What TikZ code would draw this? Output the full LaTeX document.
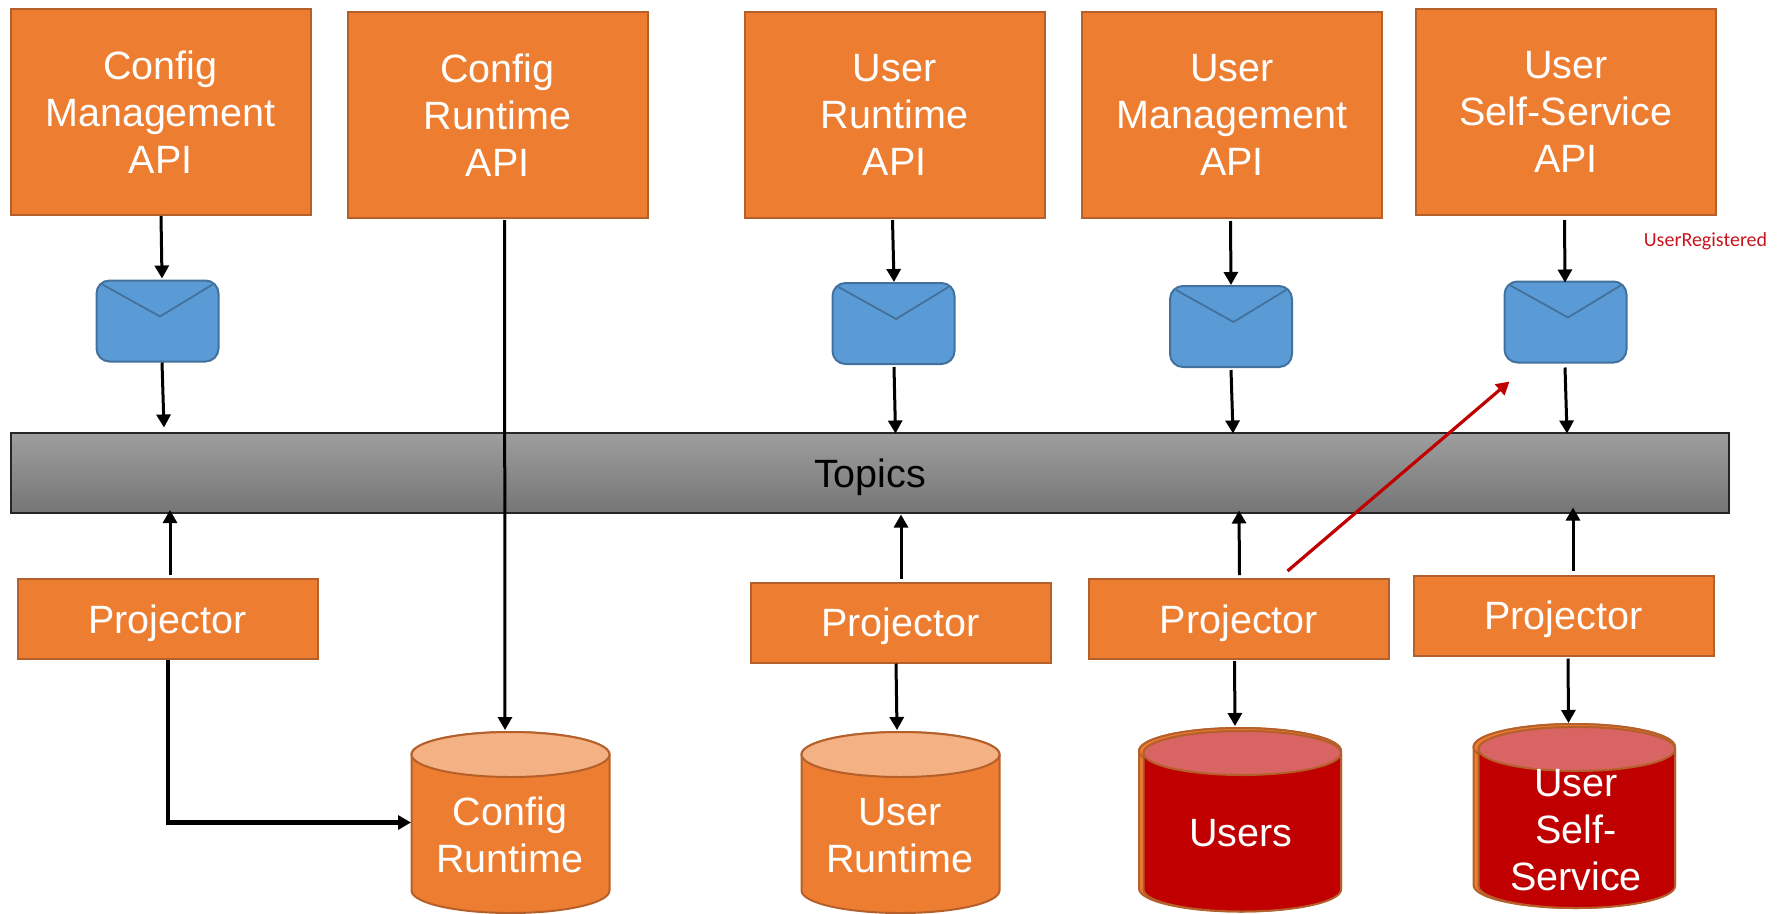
\documentclass[tikz,border=0pt]{standalone}
\usepackage{fontspec}
\setmainfont{Liberation Sans}
\newfontfamily\calibrilike{Carlito}
\usetikzlibrary{arrows.meta}
\definecolor{orangefill}{HTML}{ED7D31}
\definecolor{orangeline}{HTML}{B5602A}
\definecolor{orangelight}{HTML}{F4B183}
\definecolor{bluefill}{HTML}{5B9BD5}
\definecolor{blueline}{HTML}{41719C}
\definecolor{dbred}{HTML}{C00000}
\definecolor{dbpink}{HTML}{D96464}
\definecolor{redlabel}{HTML}{C8141E}
\tikzset{
  x=1pt,y=-1pt,
  bigtext/.style={font=\fontsize{39.5}{47}\selectfont,align=center,text=white},
  apibox/.style={rectangle,draw=orangeline,fill=orangefill,line width=2pt,bigtext,inner sep=0pt,outer sep=0pt,minimum width=300pt,minimum height=206pt},
  projbox/.style={apibox,minimum height=80pt,text depth=0pt},
  envbox/.style={rectangle,rounded corners=13pt,draw=blueline,fill=bluefill,line width=2pt,inner sep=0pt,outer sep=0pt,minimum width=122pt,minimum height=81pt},
  envflap/.style={draw=blueline,line width=1.8pt},
  topicsbar/.style={rectangle,draw=black!85,line width=1.3pt,top color=black!38,bottom color=black!54,inner sep=0pt,outer sep=0pt,minimum width=1718pt,minimum height=80pt,font=\fontsize{39.5}{47}\selectfont,text=black,text depth=0pt},
  dbanchor/.style={rectangle,inner sep=0pt,outer sep=0pt},
  dblabel/.style={bigtext,inner sep=0pt},
  flow/.style={draw=black,line width=3pt,-{Triangle[length=13pt,width=14pt]}},
  flowthick/.style={draw=black,line width=4.2pt,-{Triangle[length=13pt,width=14pt]}},
  flowred/.style={draw=dbred,line width=3.2pt,-{Triangle[length=13pt,width=14pt]}},
  reglabel/.style={font=\calibrilike\fontsize{20}{24}\selectfont,text=redlabel,inner sep=0pt}
}
% body: left, top, right, bottom, end-cap half height, fill, cap fill
\newcommand\dbshape[7]{%
  \pgfmathsetmacro\dbcx{(#1+#3)/2}%
  \pgfmathsetmacro\dbrx{(#3-#1)/2}%
  \path[draw=orangeline,fill=#6,line width=2pt]
    (#1,#2+#5) -- (#1,#4-#5) arc (180:360:\dbrx pt and #5pt) -- (#3,#2+#5) arc (0:180:\dbrx pt and #5pt) -- cycle;
  \path[draw=orangeline,fill=#7,line width=2pt] (\dbcx,#2+#5) ellipse (\dbrx pt and #5pt);
}
\newcommand\mailflap[1]{%
  \draw[envflap,line join=round] ([shift={(6,4)}]#1.north west) -- ([shift={(2.5,36)}]#1.north) -- ([shift={(-6,4)}]#1.north east);
}
\begin{document}
\begin{tikzpicture}
\useasboundingbox (0,0) rectangle (1787,913);

% cylinders
\dbshape{411.5}{732}{609.5}{913}{22.5}{orangefill}{orangelight}
\dbshape{801.5}{732}{999.5}{913}{22.5}{orangefill}{orangelight}
\dbshape{1139}{728}{1341}{911.5}{23}{orangefill}{orangefill}
\dbshape{1143.5}{731}{1341}{911.5}{22}{dbred}{dbpink}
\dbshape{1473.5}{724}{1675}{908}{23}{orangefill}{orangefill}
\dbshape{1478.5}{727}{1675}{908}{22}{dbred}{dbpink}
\node[dbanchor,minimum width=199pt,minimum height=181pt] (crdb) at (510.5,822.5) {};
\node[dbanchor,minimum width=199pt,minimum height=181pt] (urdb) at (900.5,822.5) {};
\node[dbanchor,minimum width=203pt,minimum height=184pt] (usersdb) at (1239.5,820) {};
\node[dbanchor,minimum width=202pt,minimum height=184pt] (ssdb) at (1574,816) {};
\node[dblabel] (crlabel) at (510,835) {Config\\Runtime};
\node[dblabel] (urlabel) at (900,835.5) {User\\Runtime};
\node[dblabel] (userslabel) at (1241,833) {Users};
\node[dblabel] (sslabel) at (1576,830) {User\\Self-\\Service};

% API boxes
\node[apibox] (cmapi) at (160.5,112) {Config\\Management\\API};
\node[apibox] (crapi) at (497.5,115) {Config\\Runtime\\API};
\node[apibox] (urapi) at (894.5,115) {User\\Runtime\\API};
\node[apibox] (umapi) at (1232,115) {User\\Management\\API};
\node[apibox] (ssapi) at (1566,112) {User\\Self-Service\\API};
\node[reglabel] (reg) at (1705.5,241) {UserRegistered};

% messages
\node[envbox] (e1) at (157.5,321) {};
\node[envbox] (e2) at (893.5,323.5) {};
\node[envbox] (e3) at (1231,326.5) {};
\node[envbox] (e4) at (1565.5,322) {};
\mailflap{e1}\mailflap{e2}\mailflap{e3}\mailflap{e4}

% topics
\node[topicsbar] (topics) at (870,473) {Topics};

% projectors
\node[projbox] (p1) at (167.5,619) {Projector};
\node[projbox] (p2) at (900.5,622.5) {Projector};
\node[projbox] (p3) at (1239,619) {Projector};
\node[projbox] (p4) at (1563.5,615.5) {Projector};

% connectors
\draw[flow] ([shift={(0.5,1)}]cmapi.south) -- ([shift={(4.5,-2)}]e1.north);
\draw[flow] ([shift={(4.5,1)}]e1.south) -- ([shift={(153,-5.5)}]topics.north west);
\draw[flow] ([shift={(7,2)}]crapi.south) -- ([shift={(-5.5,-2)}]crdb.north);
\draw[flow] ([shift={(-2,2)}]urapi.south) -- ([shift={(0.5,-1)}]e2.north);
\draw[flow] ([shift={(0.5,3)}]e2.south) -- ([shift={(884.5,0.5)}]topics.north west);
\draw[flow] ([shift={(-1.5,3)}]umapi.south) -- ([shift={(0,-1)}]e3.north);
\draw[flow] ([shift={(0,3)}]e3.south) -- ([shift={(1222,0.5)}]topics.north west);
\draw[flow] ([shift={(-1.5,5)}]ssapi.south) -- ([shift={(-0.5,1)}]e4.north);
\draw[flow] ([shift={(-0.5,5)}]e4.south) -- ([shift={(1556,0.5)}]topics.north west);
\draw[flow] ([shift={(2.5,-4)}]p1.north) -- ([shift={(159,-3)}]topics.south west);
\draw[flow] ([shift={(0.5,-4)}]p2.north) -- ([shift={(890,1.5)}]topics.south west);
\draw[flow] ([shift={(0.5,-4)}]p3.north) -- ([shift={(1228,-2.5)}]topics.south west);
\draw[flow] ([shift={(9.5,-5)}]p4.north) -- ([shift={(1562,-5.5)}]topics.south west);
\draw[flowthick] ([shift={(0.5,1)}]p1.south) |- (crdb.west);
\draw[flow] ([shift={(-4.5,1)}]p2.south) -- ([shift={(-3.5,-2)}]urdb.north);
\draw[flow] ([shift={(-4.5,2)}]p3.south) -- ([shift={(-4.5,-2)}]usersdb.north);
\draw[flow] ([shift={(4.5,3)}]p4.south) -- ([shift={(-5.5,-1)}]ssdb.north);
\draw[flowred] ([shift={(48.5,-8)}]p3.north) -- ([shift={(5,19)}]e4.south west);
\end{tikzpicture}
\end{document}
